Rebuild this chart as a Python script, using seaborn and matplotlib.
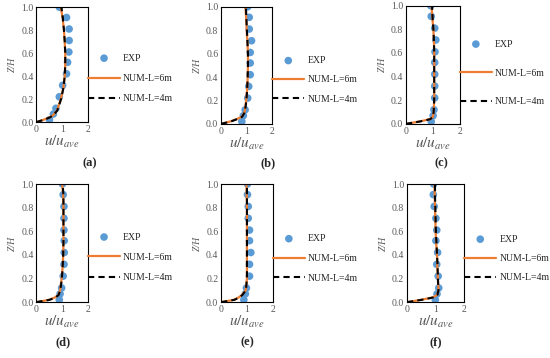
"""
Velocity profiles u/u_ave vs Z/H for six sections, EXP vs two NUM runs.
"""

import matplotlib
matplotlib.use("Agg")
import matplotlib.pyplot as plt
import seaborn as sns

# ─── data ───────────────────────────────────────────────────────────────────

PANELS = ["(a)", "(b)", "(c)", "(d)", "(e)", "(f)"]

EXP_Z = [1.0, 0.91, 0.81, 0.71, 0.61, 0.52, 0.42, 0.32, 0.22, 0.12, 0.07, 0.02]
EXP_U_A = [0.89, 1.17, 1.27, 1.27, 1.26, 1.21, 1.17, 1.02, 0.89, 0.76, 0.66, 0.51]
EXP_U_B = [1.04, 1.10, 1.10, 1.19, 1.14, 1.14, 1.14, 1.08, 1.04, 0.94, 0.87, 0.81]
EXP_U_C = [0.92, 0.94, 1.07, 1.11, 1.08, 1.07, 1.07, 1.07, 1.07, 1.04, 1.01, 0.94]
EXP_U_D = [1.01, 1.04, 1.07, 1.07, 1.07, 1.08, 1.08, 1.07, 1.04, 0.98, 0.92, 0.89]
EXP_U_E = [1.02, 1.02, 1.05, 1.05, 1.10, 1.10, 1.15, 1.10, 1.10, 0.98, 0.94, 0.88]
EXP_U_F = [0.93, 0.92, 0.95, 1.01, 1.04, 1.01, 1.07, 1.04, 1.09, 1.11, 1.05, 0.99]

NUM_Z = [0.0, 0.02, 0.04, 0.06, 0.1, 0.2, 0.3, 0.4, 0.5, 0.6, 0.7, 0.8, 0.9, 1.0]
NUM6_U_A = [0.0, 0.28, 0.50, 0.65, 0.80, 0.95, 1.05, 1.10, 1.12, 1.12, 1.10, 1.07, 1.02, 0.95]
NUM4_U_A = [0.0, 0.30, 0.52, 0.66, 0.81, 0.96, 1.05, 1.10, 1.12, 1.12, 1.10, 1.07, 1.03, 0.97]
NUM6_U_B = [0.0, 0.35, 0.60, 0.80, 0.92, 0.98, 1.02, 1.04, 1.05, 1.05, 1.03, 1.00, 0.98, 0.95]
NUM4_U_B = [0.0, 0.38, 0.62, 0.82, 0.93, 0.99, 1.02, 1.04, 1.05, 1.05, 1.03, 1.01, 0.99, 0.97]
NUM6_U_C = [0.0, 0.50, 0.90, 1.00, 1.03, 1.05, 1.05, 1.05, 1.05, 1.05, 1.04, 1.02, 0.98, 0.95]
NUM4_U_C = [0.0, 0.52, 0.91, 1.00, 1.03, 1.05, 1.05, 1.05, 1.05, 1.05, 1.04, 1.02, 0.99, 0.97]
NUM6_U_D = [0.0, 0.50, 0.72, 0.85, 0.92, 0.98, 1.02, 1.04, 1.05, 1.05, 1.05, 1.05, 1.04, 1.00]
NUM4_U_D = [0.0, 0.52, 0.74, 0.86, 0.93, 0.99, 1.02, 1.04, 1.05, 1.05, 1.05, 1.05, 1.05, 1.02]
NUM6_U_E = [0.0, 0.50, 0.68, 0.80, 0.95, 1.00, 1.00, 1.00, 1.00, 1.00, 1.00, 1.00, 0.99, 0.98]
NUM4_U_E = [0.0, 0.52, 0.70, 0.82, 0.96, 1.00, 1.00, 1.00, 1.00, 1.00, 1.00, 1.00, 1.00, 1.00]
NUM6_U_F = [0.0, 0.50, 0.90, 1.05, 1.10, 1.08, 1.06, 1.05, 1.02, 1.00, 0.99, 0.98, 0.97, 0.96]
NUM4_U_F = [0.0, 0.52, 0.92, 1.06, 1.10, 1.08, 1.07, 1.05, 1.03, 1.01, 1.00, 0.99, 0.98, 0.98]

EXP_U = [EXP_U_A, EXP_U_B, EXP_U_C, EXP_U_D, EXP_U_E, EXP_U_F]
NUM6_U = [NUM6_U_A, NUM6_U_B, NUM6_U_C, NUM6_U_D, NUM6_U_E, NUM6_U_F]
NUM4_U = [NUM4_U_A, NUM4_U_B, NUM4_U_C, NUM4_U_D, NUM4_U_E, NUM4_U_F]

# ─── layout ─────────────────────────────────────────────────────────────────

# axes rectangles [left, bottom, width, height] in figure fraction
AX_RECTS = [
    [0.066, 0.659, 0.094, 0.321],
    [0.402, 0.654, 0.093, 0.327],
    [0.738, 0.654, 0.098, 0.330],
    [0.066, 0.156, 0.094, 0.330],
    [0.402, 0.156, 0.094, 0.330],
    [0.740, 0.156, 0.104, 0.330],
]
LEG_Y = [0.38, 0.376, 0.43, 0.38, 0.37, 0.37]
LEG_SPACING = [1.15, 1.05, 2.05, 1.15, 1.1, 1.05]
LABEL_POS = [(0.164, 0.545), (0.487, 0.545), (0.803, 0.545),
             (0.115, 0.045), (0.449, 0.045), (0.792, 0.045)]

BLUE = "#5B9BD5"
ORANGE = "#ED7D31"
GRAY = "#595959"

sns.set_style("white")
plt.rcParams["font.family"] = ["Liberation Serif", "DejaVu Serif"]
plt.rcParams["mathtext.fontset"] = "stix"

fig = plt.figure(figsize=(5.5, 3.58), dpi=100)

for i, rect in enumerate(AX_RECTS):
    ax = fig.add_axes(rect)
    sns.lineplot(x=NUM6_U[i], y=NUM_Z, orient="y", color=ORANGE, lw=1.6,
                 label="NUM-L=6m", ax=ax)
    sns.lineplot(x=NUM4_U[i], y=NUM_Z, orient="y", color="black", lw=1.5,
                 linestyle=(0, (3, 2)), label="NUM-L=4m", ax=ax)
    sns.scatterplot(x=EXP_U[i], y=EXP_Z, color=BLUE, s=30, edgecolor="none",
                    label="EXP", ax=ax, zorder=1)

    ax.set_xlim(0, 2)
    ax.set_ylim(0, 1)
    ax.set_xticks([0, 1, 2])
    ax.set_yticks([0, 0.2, 0.4, 0.6, 0.8, 1.0])
    ax.set_yticklabels([f"{v:.1f}" for v in [0, 0.2, 0.4, 0.6, 0.8, 1.0]])
    ax.tick_params(length=0, labelsize=7, colors=GRAY, pad=2)
    for sp in ax.spines.values():
        sp.set_color("black")
        sp.set_linewidth(0.8)
    ax.set_xlabel(r"$u/u_{ave}$", fontsize=11, color=GRAY, labelpad=0)
    ax.set_ylabel("Z/H", fontsize=7, style="italic", color=GRAY, labelpad=3)

    h, l = ax.get_legend_handles_labels()
    order = [l.index("EXP"), l.index("NUM-L=6m"), l.index("NUM-L=4m")]
    ax.legend([h[k] for k in order], [l[k] for k in order],
              loc="center left", bbox_to_anchor=(1.0, LEG_Y[i]),
              frameon=False, fontsize=7, handlelength=3.3, handletextpad=0.3,
              borderpad=0, borderaxespad=0, labelspacing=LEG_SPACING[i])

    fig.text(LABEL_POS[i][0], LABEL_POS[i][1], PANELS[i], ha="center",
             va="center", fontsize=9, fontweight="bold")

fig.savefig("out.png", dpi=100)
